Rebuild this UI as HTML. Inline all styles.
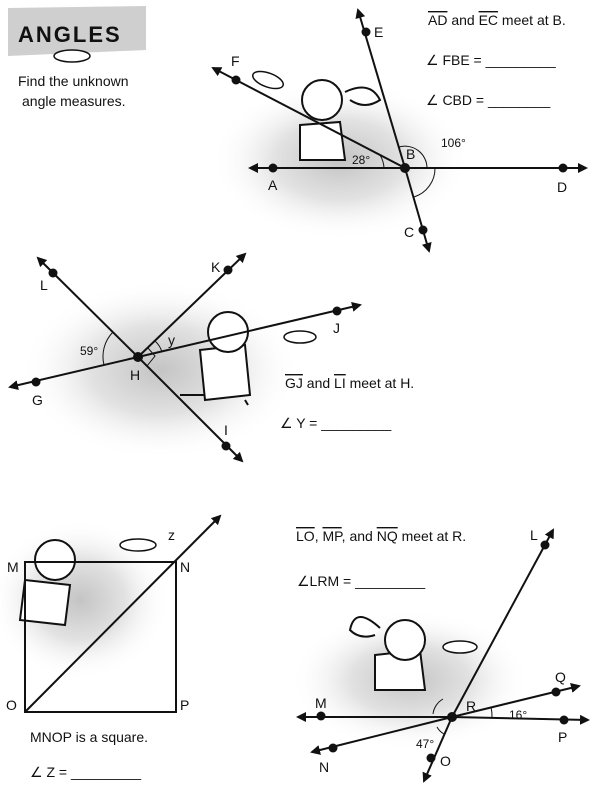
<!DOCTYPE html>
<html><head><meta charset="utf-8"><style>
html,body{margin:0;padding:0;background:#fff;width:600px;height:793px;overflow:hidden}
svg{display:block}
text{font-family:"Liberation Sans",sans-serif;fill:#111}
</style></head><body>
<svg width="600" height="793" viewBox="0 0 600 793" xmlns="http://www.w3.org/2000/svg">
<defs>
<radialGradient id="sh" cx="50%" cy="50%" r="50%">
<stop offset="0" stop-color="#c4c4c4"/><stop offset="0.5" stop-color="#e2e2e2"/><stop offset="1" stop-color="#fff" stop-opacity="0"/></radialGradient>
<marker id="ar" viewBox="0 0 10 10" refX="8" refY="5" markerWidth="5" markerHeight="5" orient="auto-start-reverse"><path d="M0,0 L10,5 L0,10 Z" fill="#111"/></marker>
</defs>
<!-- shadows -->
<ellipse cx="340" cy="160" rx="130" ry="80" fill="url(#sh)"/>
<ellipse cx="160" cy="370" rx="140" ry="90" fill="url(#sh)"/>
<ellipse cx="80" cy="600" rx="90" ry="80" fill="url(#sh)"/>
<ellipse cx="410" cy="680" rx="120" ry="70" fill="url(#sh)"/>
<!-- header -->
<polygon points="8,8 146,6 146,50 8,56" fill="#cfcfcf"/>
<text x="18" y="42" font-size="22" font-weight="bold" font-family="Liberation Mono" letter-spacing="2">ANGLES</text>
<ellipse cx="72" cy="56" rx="18" ry="6" fill="#fff" stroke="#111" stroke-width="1.5"/>
<text x="18" y="86" font-size="14">Find the unknown</text>
<text x="22" y="106" font-size="14">angle measures.</text>
<!-- characters (simple) -->
<g fill="#fff" stroke="#111" stroke-width="2">
<path d="M300,125 L340,122 L345,160 L300,160 Z"/>
<circle cx="322" cy="100" r="20"/>
<path d="M345,92 Q370,80 380,100 Q365,110 350,100" />
<path d="M200,350 L245,345 L250,395 L205,400 Z"/>
<circle cx="228" cy="332" r="20"/>
<path d="M180,395 L205,395 M245,400 L248,405"/>
<path d="M25,580 L70,585 L65,625 L20,620 Z"/>
<circle cx="55" cy="560" r="20"/>
<path d="M375,655 L420,650 L425,690 L375,690 Z"/>
<circle cx="405" cy="640" r="20"/>
<path d="M380,628 Q355,605 350,630 Q360,640 375,635"/>
</g>
<g stroke="#111" stroke-width="2" fill="none">
<!-- diagram 1 -->
<line x1="405" y1="168" x2="250" y2="168" marker-end="url(#ar)"/>
<line x1="405" y1="168" x2="586" y2="168" marker-end="url(#ar)"/>
<line x1="405" y1="168" x2="358" y2="10" marker-end="url(#ar)"/>
<line x1="405" y1="168" x2="429" y2="251" marker-end="url(#ar)"/>
<line x1="405" y1="168" x2="213" y2="68" marker-end="url(#ar)"/>
<path d="M380,155 A28,28 0 0,1 384,168" stroke-width="1"/>
<path d="M399,147 A22,22 0 0,1 427,168" stroke-width="1"/>
<path d="M435,168 A30,30 0 0,1 414,197" stroke-width="1"/>
<!-- diagram 2 -->
<line x1="138" y1="357" x2="10" y2="387" marker-end="url(#ar)"/>
<line x1="138" y1="357" x2="360" y2="305" marker-end="url(#ar)"/>
<line x1="138" y1="357" x2="38" y2="258" marker-end="url(#ar)"/>
<line x1="138" y1="357" x2="242" y2="461" marker-end="url(#ar)"/>
<line x1="138" y1="357" x2="245" y2="254" marker-end="url(#ar)"/>
<path d="M104,365 A35,35 0 0,1 113,332" stroke-width="1"/>
<path d="M155,341 A24,24 0 0,1 162,352" stroke-width="1"/>
<path d="M148,348 L155,356 L147,366" stroke-width="1"/>
<!-- diagram 3 -->
<rect x="25" y="562" width="151" height="150"/>
<line x1="25" y1="712" x2="220" y2="516" marker-end="url(#ar)"/>
<!-- diagram 4 -->
<line x1="452" y1="717" x2="298" y2="717" marker-end="url(#ar)"/>
<line x1="452" y1="717" x2="588" y2="720" marker-end="url(#ar)"/>
<line x1="452" y1="717" x2="312" y2="752" marker-end="url(#ar)"/>
<line x1="452" y1="717" x2="579" y2="686" marker-end="url(#ar)"/>
<line x1="452" y1="717" x2="553" y2="530" marker-end="url(#ar)"/>
<line x1="452" y1="717" x2="424" y2="781" marker-end="url(#ar)"/>
<path d="M433,714 A20,20 0 0,1 443,699" stroke-width="1"/>
<path d="M437,727 A18,18 0 0,0 444,734" stroke-width="1"/>
<path d="M492,718 A40,40 0 0,0 491,707" stroke-width="1"/>
</g>
<g fill="#111">
<circle cx="405" cy="168" r="5"/><circle cx="273" cy="168" r="4.5"/><circle cx="563" cy="168" r="4.5"/>
<circle cx="366" cy="32" r="4.5"/><circle cx="423" cy="230" r="4.5"/><circle cx="236" cy="80" r="4.5"/>
<circle cx="138" cy="357" r="5"/><circle cx="36" cy="382" r="4.5"/><circle cx="337" cy="311" r="4.5"/>
<circle cx="53" cy="273" r="4.5"/><circle cx="226" cy="446" r="4.5"/><circle cx="228" cy="270" r="4.5"/>
<circle cx="452" cy="717" r="5"/><circle cx="321" cy="716" r="4.5"/><circle cx="564" cy="720" r="4.5"/>
<circle cx="333" cy="748" r="4.5"/><circle cx="556" cy="692" r="4.5"/><circle cx="545" cy="545" r="4.5"/><circle cx="431" cy="758" r="4.5"/>
</g>
<g font-size="14">
<text x="231" y="66">F</text><text x="374" y="37">E</text><text x="268" y="190">A</text><text x="404" y="237">C</text>
<text x="557" y="192">D</text><text x="406" y="159">B</text><text x="352" y="164" font-size="12">28°</text><text x="441" y="147" font-size="12">106°</text>
<text x="40" y="290">L</text><text x="211" y="272">K</text><text x="333" y="333">J</text><text x="32" y="405">G</text>
<text x="130" y="380">H</text><text x="224" y="435">I</text><text x="80" y="355" font-size="12">59°</text><text x="168" y="345" font-family="Liberation Serif">y</text>
<text x="7" y="572">M</text><text x="180" y="572">N</text><text x="6" y="710">O</text><text x="180" y="710">P</text>
<text x="168" y="540" font-family="Liberation Serif">z</text>
<text x="530" y="540">L</text><text x="555" y="682">Q</text><text x="466" y="711">R</text><text x="509" y="719" font-size="12">16°</text>
<text x="558" y="742">P</text><text x="315" y="708">M</text><text x="319" y="772">N</text><text x="440" y="766">O</text><text x="416" y="748" font-size="12">47°</text>
<text x="428" y="25"><tspan text-decoration="overline">AD</tspan> and <tspan text-decoration="overline">EC</tspan> meet at B.</text>
<text x="426" y="65">∠ FBE = _________</text>
<text x="426" y="105">∠ CBD = ________</text>
<text x="285" y="388"><tspan text-decoration="overline">GJ</tspan> and <tspan text-decoration="overline">LI</tspan> meet at H.</text>
<text x="280" y="428">∠ Y = _________</text>
<text x="296" y="541"><tspan text-decoration="overline">LO</tspan>, <tspan text-decoration="overline">MP</tspan>, and <tspan text-decoration="overline">NQ</tspan> meet at R.</text>
<text x="297" y="586">∠LRM = _________</text>
<text x="30" y="742">MNOP is a square.</text>
<text x="30" y="777">∠ Z = _________</text>
</g>
<!-- frisbees -->
<g fill="#fff" stroke="#111" stroke-width="1.5">
<ellipse cx="268" cy="80" rx="16" ry="7" transform="rotate(20 268 80)"/>
<ellipse cx="300" cy="337" rx="16" ry="6"/>
<ellipse cx="138" cy="545" rx="18" ry="6"/>
<ellipse cx="460" cy="647" rx="17" ry="6"/>
</g>
</svg>
</body></html>
